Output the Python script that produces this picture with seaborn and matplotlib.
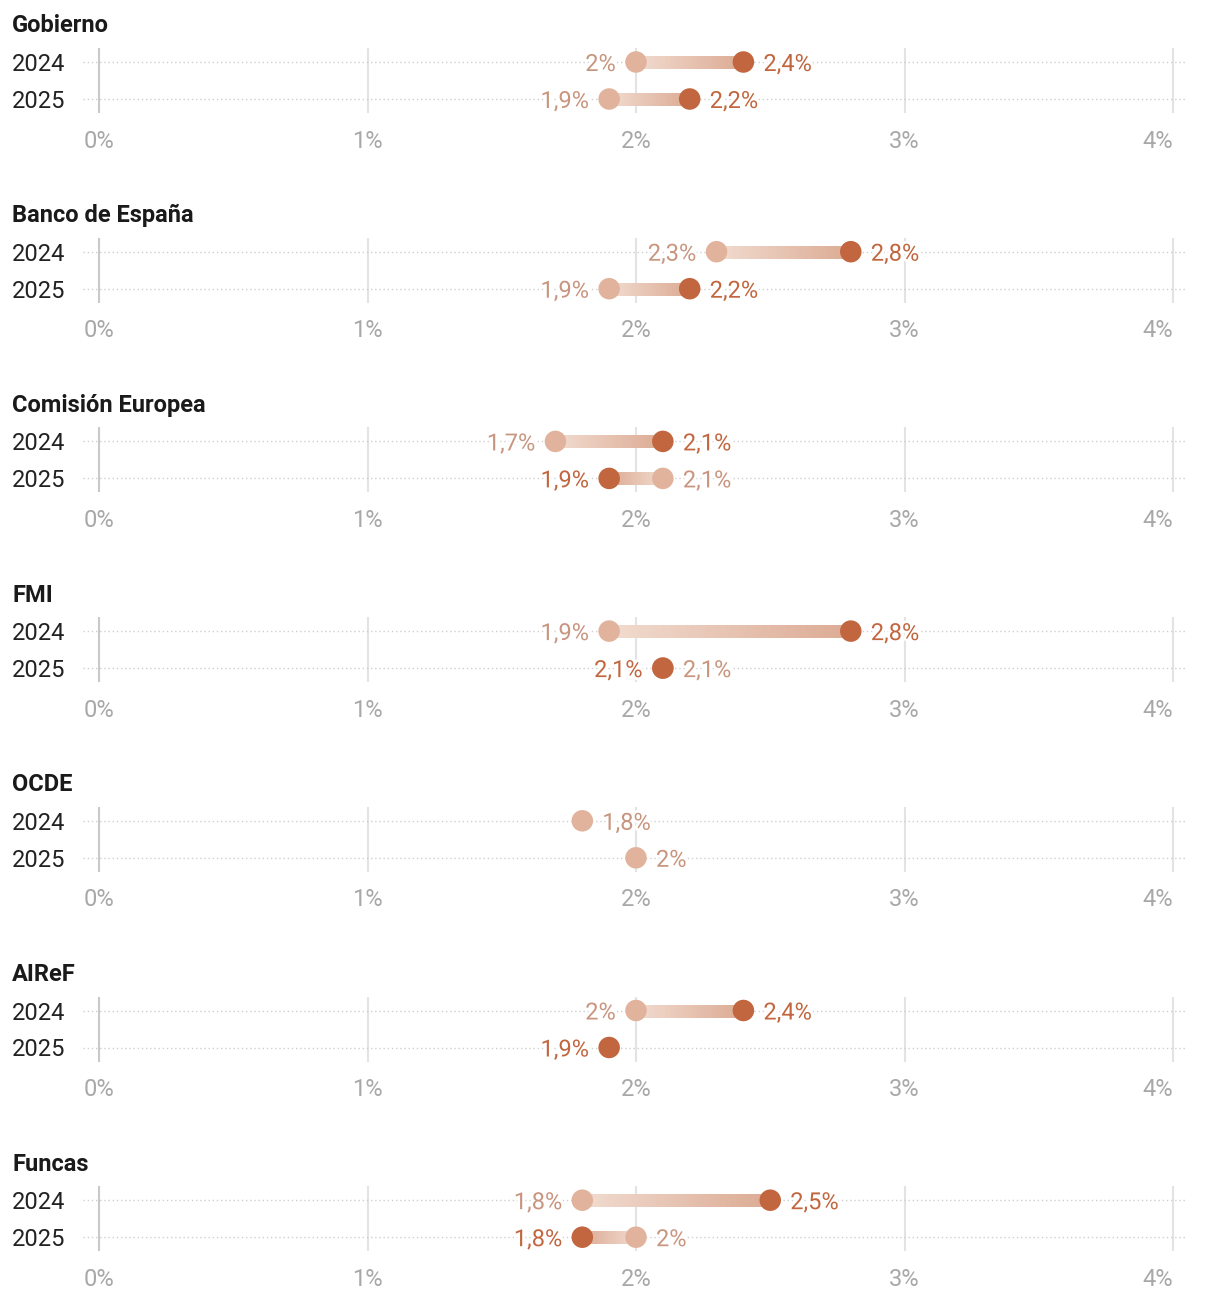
import numpy as np
import pandas as pd
import seaborn as sns
import matplotlib.pyplot as plt
from matplotlib.collections import LineCollection
from matplotlib.colors import to_rgb
import matplotlib.patheffects as pe

# datos: crecimiento del PIB previsto, previsión anterior (claro) y nueva (oscuro)
organismos = ["Gobierno", "Banco de España", "Comisión Europea", "FMI", "OCDE", "AIReF", "Funcas"]
anios = ["2024", "2025"]
anterior_2024 = [2.0, 2.3, 1.7, 1.9, 1.8, 2.0, 1.8]
anterior_2025 = [1.9, 1.9, 2.1, 2.1, 2.0, None, 2.0]
nueva_2024 = [2.4, 2.8, 2.1, 2.8, None, 2.4, 2.5]
nueva_2025 = [2.2, 2.2, 1.9, 2.1, None, 1.9, 1.8]
ticks = [0, 1, 2, 3, 4]
tick_labels = ["0%", "1%", "2%", "3%", "4%"]

CLARO = "#e1b39c"
CLARO_TXT = "#c8957f"
OSCURO = "#c1663e"
BARRA_INI = "#f1dbcf"
BARRA_FIN = "#dcab94"

sns.set_theme(style="white")
plt.rcParams['font.family'] = ['Roboto', 'DejaVu Sans']

W, H = 1220, 1298
fig = plt.figure(figsize=(W / 100, H / 100), dpi=100)


def fmt(v):
    return f"{v:g}".replace(".", ",") + "%"


def etiqueta(ax, x, y, color, lado):
    off = -20 if lado == "izq" else 20
    ha = "right" if lado == "izq" else "left"
    ax.annotate(fmt(x), (x, y), xytext=(off * 0.72, 0), textcoords="offset points",
                ha=ha, va="center_baseline", fontsize=17, color=color, zorder=5,
                path_effects=[pe.withStroke(linewidth=4, foreground="white")])


def barra(ax, a, b, y):
    # degradado: tramos cortos solapados para que no queden huecos
    n = 60
    xs = np.linspace(a, b, n + 1)
    paso = (b - a) / n
    segs = [[(xs[i], y), (xs[i + 1] + (0.6 * paso if i < n - 1 else 0), y)] for i in range(n)]
    c0, c1 = np.array(to_rgb(BARRA_INI)), np.array(to_rgb(BARRA_FIN))
    cols = [c0 + (c1 - c0) * t for t in np.linspace(0, 1, n)]
    lc = LineCollection(segs, colors=cols, linewidths=8, capstyle="butt",
                        antialiaseds=False, zorder=2)
    ax.add_collection(lc)


x0_px, px_unit = 99, 268.5
left_px, right_px = 83, 1186

for i, org in enumerate(organismos):
    row_px = 62 + 189.7 * i
    top_px = row_px - 14
    bot_px = row_px + 37 + 14
    ax = fig.add_axes([left_px / W, 1 - bot_px / H, (right_px - left_px) / W, (bot_px - top_px) / H])

    filas = [
        (0, anterior_2024[i], nueva_2024[i]),
        (1, anterior_2025[i], nueva_2025[i]),
    ]
    recs = []
    for y, l, d in filas:
        if l is not None:
            recs.append({"valor": l, "fila": y, "tipo": "anterior"})
        if d is not None:
            recs.append({"valor": d, "fila": y, "tipo": "nueva"})
    df = pd.DataFrame(recs)
    df["orden"] = (df["tipo"] == "nueva").astype(int)
    df = df.sort_values("orden")

    # rejilla
    for t in ticks:
        ax.axvline(t, color="#c9c9c9" if t == 0 else "#e3e3e3", lw=1.5, zorder=0)
    for y in [0, 1]:
        ax.axhline(y, color="#cfcfcf", lw=1, linestyle=(0, (1, 2)), zorder=1)

    for y, l, d in filas:
        if l is not None and d is not None and l != d:
            barra(ax, l, d, y)

    sns.scatterplot(data=df, x="valor", y="fila", hue="tipo",
                    palette={"anterior": CLARO, "nueva": OSCURO},
                    s=240, linewidth=0, legend=False, ax=ax, zorder=3)

    for y, l, d in filas:
        if l is None:
            etiqueta(ax, d, y, OSCURO, "izq")
        elif d is None:
            etiqueta(ax, l, y, CLARO_TXT, "der")
        elif d > l:
            etiqueta(ax, l, y, CLARO_TXT, "izq")
            etiqueta(ax, d, y, OSCURO, "der")
        else:
            etiqueta(ax, d, y, OSCURO, "izq")
            etiqueta(ax, l, y, CLARO_TXT, "der")

    ax.set_xlim((left_px - x0_px) / px_unit, (right_px - x0_px) / px_unit)
    ax.set_ylim(1 + 14 / 37, -14 / 37)
    ax.set_xticks(ticks, tick_labels)
    ax.set_yticks([0, 1], anios)
    ax.tick_params(axis="x", length=0, pad=12, labelsize=17, labelcolor="#a8a8a8")
    ax.tick_params(axis="y", length=0, pad=(left_px - 12) * 0.72, labelsize=17, labelcolor="#222222")
    for lab in ax.get_yticklabels():
        lab.set_horizontalalignment("left")
    ax.get_xticklabels()[-1].set_horizontalalignment("right")
    ax.set_xlabel("")
    ax.set_ylabel("")
    for s in ax.spines.values():
        s.set_visible(False)
    ax.patch.set_alpha(0)

    fig.text(12 / W, 1 - (row_px - 36) / H, org, fontsize=17, fontweight="bold",
             color="#1a1a1a", ha="left", va="center")

fig.savefig("out.png", dpi=100)
